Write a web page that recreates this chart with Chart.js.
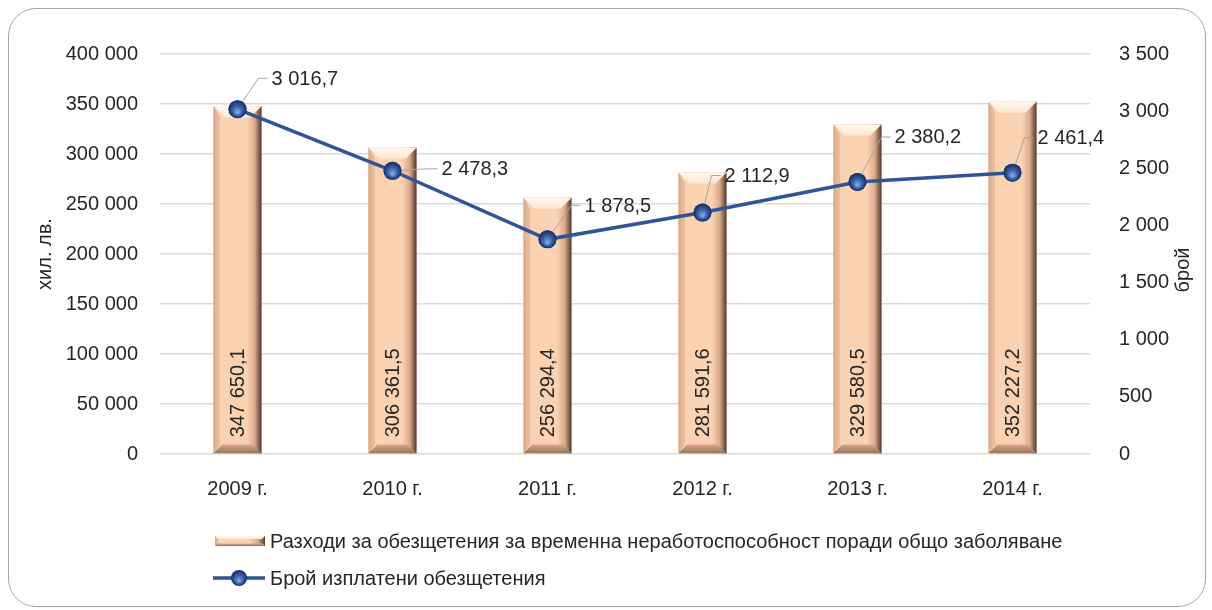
<!DOCTYPE html>
<html>
<head>
<meta charset="utf-8">
<script src="https://cdn.jsdelivr.net/npm/chart.js@4"></script>
<style>
  html, body { margin: 0; padding: 0; background: #fff; }
  #wrap { position: relative; width: 1212px; height: 610px; }
  #frame {
    position: absolute; left: 8px; top: 8px; width: 1196px; height: 597px;
    border: 1px solid #a6a6a6; border-radius: 28px; pointer-events: none;
  }
  canvas { position: absolute; left: 0; top: 0; }
</style>
</head>
<body>
<div id="wrap">
  <canvas id="chart" width="1212" height="610"></canvas>
  <div id="frame"></div>
</div>
<script>
// данни
const years = ['2009 г.', '2010 г.', '2011 г.', '2012 г.', '2013 г.', '2014 г.'];
const expenses = [347650.1, 306361.5, 256294.4, 281591.6, 329580.5, 352227.2];
const payments = [3016.7, 2478.3, 1878.5, 2112.9, 2380.2, 2461.4];
const expensesLabel = 'Разходи за обезщетения за временна неработоспособност поради общо заболяване';
const paymentsLabel = 'Брой изплатени обезщетения';
const leftTitle = 'хил. лв.';
const rightTitle = 'брой';

// къде стоят етикетите на линията спрямо точката (само разположение)
const labelOffsets = [[21, -31], [36, -2], [24, -34], [9, -37], [24, -45], [12, -35]];

const FONT = '"Liberation Sans Narrow", "Liberation Sans", Arial, sans-serif';
const FSIZE = 20;
const TEXT = '#262626';
const LINE = '#2f5597';

function fmt(v, d) {
    const parts = v.toFixed(d).split('.');
    const i = parts[0].replace(/\B(?=(\d{3})+(?!\d))/g, ' ');
    return parts[1] ? i + ',' + parts[1] : i;
}

function bevelBar(ctx, left, right, top, base, b) {
    const w = right - left;
    const g = ctx.createLinearGradient(left, 0, right, 0);
    g.addColorStop(0, '#e2b392');
    g.addColorStop(0.1, '#fbd2b2');
    g.addColorStop(0.7, '#fbd2b2');
    g.addColorStop(0.86, '#d9a98a');
    g.addColorStop(1, '#4e382d');
    ctx.fillStyle = g;
    ctx.fillRect(left, top, w, base - top);
    // горен скос
    const gt = ctx.createLinearGradient(0, top, 0, top + b);
    gt.addColorStop(0, '#fff8f0');
    gt.addColorStop(1, '#fee6d0');
    ctx.fillStyle = gt;
    ctx.beginPath();
    ctx.moveTo(left, top); ctx.lineTo(right, top);
    ctx.lineTo(right - b, top + b); ctx.lineTo(left + b, top + b);
    ctx.closePath(); ctx.fill();
    // ляв скос
    ctx.fillStyle = 'rgba(200,150,115,0.35)';
    ctx.beginPath();
    ctx.moveTo(left, top); ctx.lineTo(left + b * 0.6, top + b);
    ctx.lineTo(left + b * 0.6, base - b * 0.8); ctx.lineTo(left, base);
    ctx.closePath(); ctx.fill();
    // долен скос
    const gb = ctx.createLinearGradient(0, base - b * 0.8, 0, base);
    gb.addColorStop(0, '#d7a789');
    gb.addColorStop(1, '#9c7460');
    ctx.fillStyle = gb;
    ctx.beginPath();
    ctx.moveTo(left, base); ctx.lineTo(right, base);
    ctx.lineTo(right - b * 0.8, base - b * 0.8); ctx.lineTo(left + b * 0.8, base - b * 0.8);
    ctx.closePath(); ctx.fill();
}

function sphere(ctx, x, y, r) {
    const g = ctx.createRadialGradient(x, y + r * 0.35, r * 0.1, x, y, r);
    g.addColorStop(0, '#7ea3df');
    g.addColorStop(0.45, '#3b63ab');
    g.addColorStop(1, '#142c5c');
    ctx.fillStyle = g;
    ctx.beginPath();
    ctx.arc(x, y, r, 0, Math.PI * 2);
    ctx.fill();
}

const decorPlugin = {
    id: 'decor',
    afterDatasetDraw(chart, args) {
        if (args.index !== 0) return;
        const ctx = chart.ctx;
        ctx.save();
        args.meta.data.forEach(function(bar, i) {
            const left = bar.x - bar.width / 2, right = bar.x + bar.width / 2;
            bevelBar(ctx, left, right, bar.y, bar.base, 11);
            ctx.save();
            ctx.translate(bar.x, bar.base - 16);
            ctx.rotate(-Math.PI / 2);
            ctx.font = FSIZE + 'px ' + FONT;
            ctx.fillStyle = TEXT;
            ctx.textAlign = 'left';
            ctx.textBaseline = 'middle';
            ctx.fillText(fmt(expenses[i], 1), 0, 1);
            ctx.restore();
        });
        ctx.restore();
    },
    afterDatasetsDraw(chart) {
        const ctx = chart.ctx;
        const meta = chart.getDatasetMeta(1);
        ctx.save();
        meta.data.forEach(function(pt, i) {
            const off = labelOffsets[i];
            const ex = pt.x + off[0], ey = pt.y + off[1];
            ctx.strokeStyle = '#a6a6a6';
            ctx.lineWidth = 1;
            ctx.beginPath();
            ctx.moveTo(pt.x, pt.y);
            ctx.lineTo(ex, ey);
            ctx.lineTo(ex + 9, ey);
            ctx.stroke();
        });
        meta.data.forEach(function(pt, i) {
            sphere(ctx, pt.x, pt.y, 9);
            const off = labelOffsets[i];
            ctx.font = FSIZE + 'px ' + FONT;
            ctx.fillStyle = TEXT;
            ctx.textAlign = 'left';
            ctx.textBaseline = 'middle';
            ctx.fillText(fmt(payments[i], 1), pt.x + off[0] + 13, pt.y + off[1] + 1);
        });
        ctx.restore();
    },
    afterDraw(chart) {
        const ctx = chart.ctx;
        const a = chart.chartArea;
        ctx.save();
        // дясно заглавие
        ctx.font = FSIZE + 'px ' + FONT;
        ctx.fillStyle = TEXT;
        ctx.textAlign = 'center';
        ctx.textBaseline = 'middle';
        ctx.translate(chart.width - 29, (a.top + a.bottom) / 2 + 16);
        ctx.rotate(-Math.PI / 2);
        ctx.fillText(rightTitle, 0, 0);
        ctx.restore();

        // легенда
        ctx.save();
        const lx = a.left + 55;
        const y1 = a.bottom + 87, y2 = a.bottom + 124;
        bevelBar(ctx, lx, lx + 50, y1 - 5, y1 + 5, 3);
        ctx.strokeStyle = LINE;
        ctx.lineWidth = 3.5;
        ctx.beginPath();
        ctx.moveTo(lx - 2, y2); ctx.lineTo(lx + 50, y2);
        ctx.stroke();
        sphere(ctx, lx + 24, y2, 8);
        ctx.font = FSIZE + 'px ' + FONT;
        ctx.fillStyle = TEXT;
        ctx.textAlign = 'left';
        ctx.textBaseline = 'middle';
        ctx.fillText(expensesLabel, lx + 55, y1 + 1);
        ctx.fillText(paymentsLabel, lx + 55, y2 + 1);
        ctx.restore();
    }
};

Chart.defaults.font.family = FONT;
Chart.defaults.font.size = FSIZE;
Chart.defaults.color = TEXT;

const ctx = document.getElementById('chart').getContext('2d');
new Chart(ctx, {
    type: 'bar',
    data: {
        labels: years,
        datasets: [{
            type: 'bar',
            label: expensesLabel,
            data: expenses,
            yAxisID: 'y',
            backgroundColor: '#fbd2b2',
            barPercentage: 0.31,
            categoryPercentage: 1,
            order: 2
        }, {
            type: 'line',
            label: paymentsLabel,
            data: payments,
            yAxisID: 'y1',
            borderColor: LINE,
            borderWidth: 3.5,
            pointRadius: 9,
            pointBackgroundColor: '#27488f',
            pointBorderWidth: 0,
            tension: 0,
            order: 1
        }]
    },
    options: {
        responsive: false,
        animation: false,
        layout: { padding: { top: 54, left: 0, right: 0, bottom: 0 } },
        plugins: {
            legend: { display: false },
            tooltip: { enabled: false }
        },
        scales: {
            x: {
                grid: { display: false },
                border: { display: false },
                ticks: { padding: 15 },
                afterFit: function(s) { s.height = 156; }
            },
            y: {
                position: 'left',
                min: 0, max: 400000,
                ticks: { stepSize: 50000, padding: 22, callback: function(v) { return fmt(v, 0); } },
                grid: { color: '#d9d9d9', lineWidth: 1.5, drawTicks: false },
                border: { display: false },
                title: { display: true, text: leftTitle, padding: { top: 33, bottom: 0 } },
                afterFit: function(s) { s.width = 160; }
            },
            y1: {
                position: 'right',
                min: 0, max: 3500,
                ticks: { stepSize: 500, padding: 21, callback: function(v) { return fmt(v, 0); } },
                grid: { display: false },
                border: { display: false },
                afterFit: function(s) { s.width = 122; }
            }
        }
    },
    plugins: [decorPlugin]
});
</script>
</body>
</html>
